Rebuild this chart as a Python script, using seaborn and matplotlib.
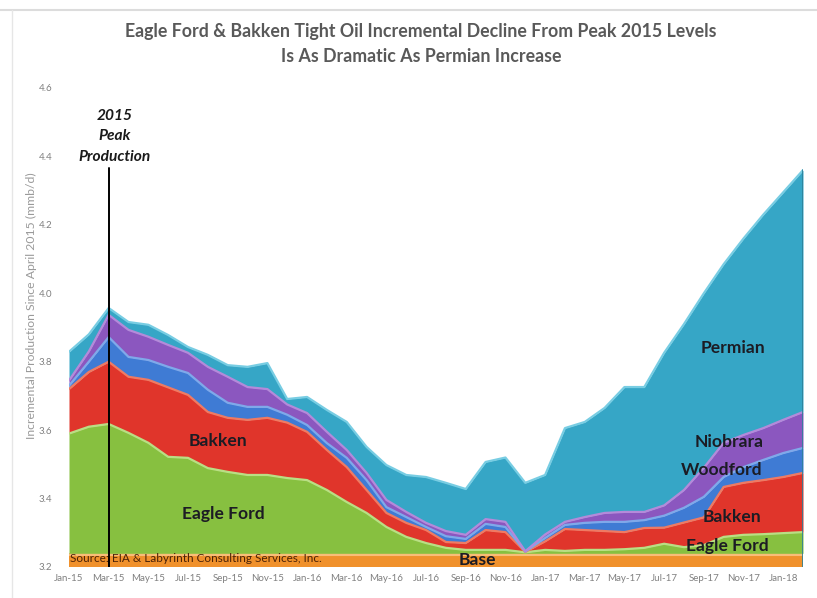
import numpy as np
import pandas as pd
import matplotlib
matplotlib.use("Agg")
import matplotlib.pyplot as plt
import seaborn as sns

# ---------------- data (mmb/d, layer thickness, monthly Jan-15 .. Feb-18) ----------------
base_level = 3.24
eagle_ford = [0.35, 0.37, 0.378, 0.352, 0.323, 0.282, 0.279, 0.249, 0.238, 0.229,
              0.229, 0.22, 0.214, 0.185, 0.15, 0.118, 0.077, 0.048, 0.03, 0.016,
              0.01, 0.01, 0.01, 0.003, 0.01, 0.007, 0.01, 0.01, 0.012, 0.016,
              0.028, 0.018, 0.024, 0.048, 0.054, 0.056, 0.059, 0.062]
bakken = [0.13, 0.16, 0.182, 0.164, 0.184, 0.203, 0.184, 0.164, 0.158, 0.161,
          0.167, 0.162, 0.141, 0.117, 0.102, 0.067, 0.041, 0.041, 0.038, 0.017,
          0.02, 0.058, 0.052, 0.001, 0.025, 0.064, 0.058, 0.055, 0.05, 0.058,
          0.047, 0.072, 0.081, 0.146, 0.152, 0.158, 0.164, 0.173]
woodford = [0.01, 0.03, 0.072, 0.058, 0.058, 0.06, 0.064, 0.065, 0.044, 0.038,
            0.032, 0.023, 0.02, 0.02, 0.027, 0.029, 0.017, 0.017, 0.009, 0.017,
            0.012, 0.018, 0.015, 0.001, 0.01, 0.012, 0.021, 0.027, 0.03, 0.023,
            0.035, 0.043, 0.06, 0.029, 0.046, 0.059, 0.07, 0.073]
niobrara = [0.015, 0.03, 0.065, 0.079, 0.068, 0.064, 0.059, 0.067, 0.076, 0.058,
            0.052, 0.03, 0.035, 0.033, 0.023, 0.021, 0.021, 0.015, 0.012, 0.015,
            0.012, 0.014, 0.015, 0.001, 0.01, 0.009, 0.017, 0.026, 0.029, 0.024,
            0.03, 0.052, 0.085, 0.1, 0.094, 0.093, 0.097, 0.105]
permian = [0.084, 0.05, 0.02, 0.023, 0.035, 0.029, 0.017, 0.035, 0.034, 0.059,
           0.076, 0.016, 0.047, 0.064, 0.082, 0.076, 0.102, 0.108, 0.134, 0.141,
           0.134, 0.167, 0.188, 0.2, 0.174, 0.274, 0.278, 0.307, 0.365, 0.365,
           0.446, 0.485, 0.51, 0.522, 0.574, 0.624, 0.665, 0.707]
tick_labels = ["Jan-15", "Mar-15", "May-15", "Jul-15", "Sep-15", "Nov-15",
               "Jan-16", "Mar-16", "May-16", "Jul-16", "Sep-16", "Nov-16",
               "Jan-17", "Mar-17", "May-17", "Jul-17", "Sep-17", "Nov-17", "Jan-18"]
peak_month = 2  # Mar-15
y_ticks = [3.2, 3.4, 3.6, 3.8, 4.0, 4.2, 4.4, 4.6]

series_names = ["Eagle Ford", "Bakken", "Woodford", "Niobrara", "Permian"]
series_vals = [eagle_ford, bakken, woodford, niobrara, permian]
fill_colors = ["#87c040", "#e0352b", "#3f7bd4", "#8b57bf", "#36a6c6"]
edge_colors = ["#b9df84", "#f07a62", "#7fa9ea", "#b48ada", "#78cde3"]

x = np.arange(len(eagle_ford))
base = np.full(len(x), base_level)

# cumulative tops in long form for seaborn outlines
tops = []
lower = base.copy()
layers = []
for name, vals in zip(series_names, series_vals):
    upper = lower + np.array(vals)
    layers.append((lower.copy(), upper.copy()))
    for xi, yi in zip(x, upper):
        tops.append({"month": xi, "top": yi, "series": name})
    lower = upper
tops = pd.DataFrame(tops)

# ---------------- figure ----------------
sns.set_theme(style="white")
plt.rcParams["font.family"] = ["Lato", "DejaVu Sans"]

fig = plt.figure(figsize=(8.17, 5.98), dpi=100)
W, H = 817, 598
ax = fig.add_axes([69 / W, 1 - 567 / H, (803 - 69) / W, (567 - 88) / H])

# base band
ax.fill_between(x, 0, base, color="#f0912c", lw=0, zorder=1)
ax.plot(x, base - 0.003, color="#f9bd78", lw=2.2, zorder=1.5)

for (lo, up), fc, ec in zip(layers, fill_colors, edge_colors):
    ax.fill_between(x, lo, up, color=fc, lw=0, zorder=2)

sns.lineplot(data=tops, x="month", y="top", hue="series", palette=dict(zip(series_names, edge_colors)),
             ax=ax, legend=False, lw=1.6, zorder=3, estimator=None)

# right edge shading
ax.plot([x[-1], x[-1]], [3.2, lower[-1]], color="#2b7f98", lw=1.2, zorder=3)

# peak vertical line
ax.plot([peak_month, peak_month], [3.2, 4.367], color="black", lw=1.4, zorder=6)
ax.text(peak_month + 0.3, 4.378, "2015\nPeak\nProduction", ha="center", va="bottom",
        fontsize=11.2, fontweight="bold", fontstyle="italic", color="#1a1a1a",
        linespacing=1.6, zorder=7)

ax.set_xlim(0, x[-1])
ax.set_ylim(3.2, 4.6)
ax.set_xticks(np.arange(0, len(tick_labels) * 2, 2))
ax.set_xticklabels(tick_labels, fontsize=7, color="#808080")
ax.set_yticks(y_ticks)
ax.set_yticklabels([f"{v:.1f}" for v in y_ticks], fontsize=7, color="#808080")
ax.tick_params(axis="y", pad=12, length=0)
ax.tick_params(axis="x", pad=5, length=0)
for s in ax.spines.values():
    s.set_visible(False)
ax.set_xlabel("")
ax.set_ylabel("")
ax.patch.set_alpha(0)

fig.text(31 / W, 1 - 306 / H, "Incremental Production Since April 2015 (mmb/d)",
         rotation=90, ha="center", va="center", fontsize=8.8, color="#9a9a9a")

# labels inside areas
lab_kw = dict(fontsize=12.6, fontweight="bold", color="#1c1c24", ha="center", va="center", zorder=8)
ax.text(7.5, 3.568, "Bakken", **lab_kw)
ax.text(7.8, 3.355, "Eagle Ford", **lab_kw)
ax.text(33.47, 3.84, "Permian", **lab_kw)
ax.text(33.3, 3.565, "Niobrara", **lab_kw)
ax.text(32.9, 3.484, "Woodford", **lab_kw)
ax.text(33.4, 3.346, "Bakken", **lab_kw)
ax.text(33.2, 3.262, "Eagle Ford", **lab_kw)
ax.text(20.6, 3.219, "Base", **lab_kw)
ax.text(0.05, 3.225, "Source: EIA & Labyrinth Consulting Services, Inc.", fontsize=8.5,
        color="#4a2208", ha="left", va="center", zorder=5)

fig.text(421 / W, 1 - 44 / H,
         "Eagle Ford & Bakken Tight Oil Incremental Decline From Peak 2015 Levels\nIs As Dramatic As Permian Increase",
         ha="center", va="center", fontsize=12.8, fontweight="bold", color="#595959", linespacing=1.55)

# faint slide border lines
fig.add_artist(plt.Line2D([0, 1], [1 - 10 / H, 1 - 10 / H], color="#dcdcdc", lw=1.5))
fig.add_artist(plt.Line2D([12 / W, 12 / W], [0, 1 - 10 / H], color="#e6e6e6", lw=1.0))

fig.savefig("out.png", dpi=100)
